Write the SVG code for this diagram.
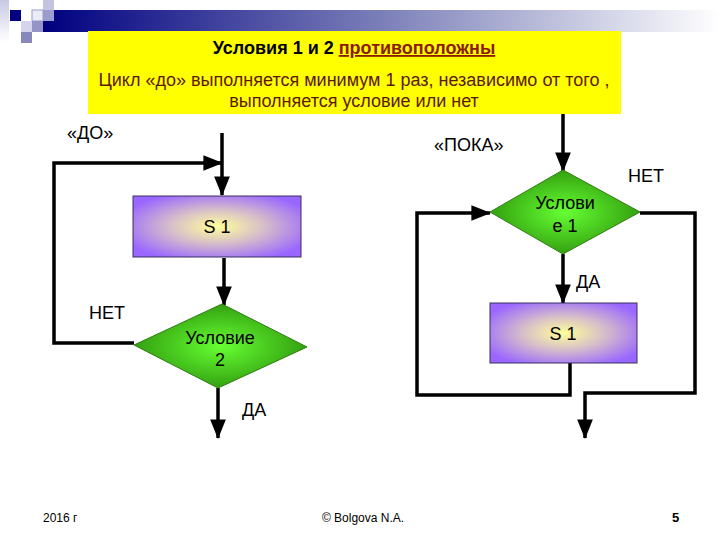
<svg xmlns="http://www.w3.org/2000/svg" width="720" height="540" viewBox="0 0 720 540">
<style>
.t{font-family:"Liberation Sans",Arial,sans-serif;font-size:18px;fill:#000}
.c{text-anchor:middle}
.ln{fill:none;stroke:#000;stroke-width:3.5}
.box{stroke:#3a2f5e;stroke-width:1}
.dia{stroke:#2e7d10;stroke-width:1}
.f{font-family:"Liberation Sans",Arial,sans-serif;font-size:12px;fill:#000}
</style>
<defs>
<linearGradient id="bar" x1="0" y1="0" x2="1" y2="0">
<stop offset="0" stop-color="#000080"/>
<stop offset="0.5" stop-color="#7b7fb8"/>
<stop offset="1" stop-color="#ffffff"/>
</linearGradient>
<linearGradient id="strip" x1="0" y1="0" x2="0" y2="1">
<stop offset="0" stop-color="#c8c8e4"/>
<stop offset="1" stop-color="#ffffff"/>
</linearGradient>
<radialGradient id="sg" cx="0.5" cy="0.5" r="0.6">
<stop offset="0" stop-color="#ffff99"/>
<stop offset="0.45" stop-color="#d8c0c8"/>
<stop offset="1" stop-color="#9966ff"/>
</radialGradient>
<radialGradient id="dg" cx="0.5" cy="0.5" r="0.5">
<stop offset="0" stop-color="#66ff33"/>
<stop offset="1" stop-color="#33a010"/>
</radialGradient>
<marker id="ah" viewBox="0 0 10 8" refX="9.5" refY="4" markerWidth="5.6" markerHeight="4.5" orient="auto" markerUnits="strokeWidth">
<path d="M0,0 L10,4 L0,8 z" fill="#000"/>
</marker>
</defs>
<rect width="720" height="540" fill="#fff"/>
<g id="decor">
<rect x="0" y="0" width="9" height="42" fill="url(#strip)"/>
<rect x="43" y="10" width="677" height="22" fill="url(#bar)"/>
<rect x="10" y="10" width="11" height="11" fill="#000080"/>
<rect x="43" y="0" width="11" height="10" fill="#c4c4e0"/>
<rect x="32" y="10" width="11" height="11" fill="#ececf6" stroke="#9a9ac8" stroke-width="1"/>
<rect x="43" y="10" width="11" height="11" fill="#9c9cd0"/>
<rect x="21" y="21" width="11" height="11" fill="#d4d4ec"/>
<rect x="32" y="21" width="11" height="11" fill="#9494c8"/>
<rect x="21" y="32" width="11" height="11" fill="#8888bc"/>
</g>
<g id="note">
<rect x="88" y="31" width="533" height="83" fill="#ffff00"/>
<text class="t c" x="354" y="54" style="font-weight:bold"><tspan>Условия 1 и 2 </tspan><tspan fill="#8b1a00" text-decoration="underline">противоположны</tspan></text>
<text class="t c" x="354" y="86" style="fill:#5c1a00">Цикл «до» выполняется минимум 1 раз, независимо от того ,</text>
<text class="t c" x="354" y="107" style="fill:#5c1a00">выполняется условие или нет</text>
</g>
<g id="connectors">
<line class="ln" x1="222" y1="133" x2="222" y2="195" marker-end="url(#ah)"/>
<polyline class="ln" points="134,343 54,343 54,163 222,163" marker-end="url(#ah)"/>
<line class="ln" x1="224" y1="258" x2="224" y2="305" marker-end="url(#ah)"/>
<line class="ln" x1="218" y1="388" x2="218" y2="438" marker-end="url(#ah)"/>
<line class="ln" x1="563" y1="114" x2="563" y2="171" marker-end="url(#ah)"/>
<line class="ln" x1="563" y1="254" x2="563" y2="303" marker-end="url(#ah)"/>
<polyline class="ln" points="570,363 570,395 417,395 417,213 490,213" marker-end="url(#ah)"/>
<polyline class="ln" points="640,213 695,213 695,393 585,393 585,438" marker-end="url(#ah)"/>
</g>
<g id="lbl-do"><text class="t" x="67" y="139">«ДО»</text></g>
<g id="s1-left">
<rect class="box" x="133" y="196" width="168" height="61" fill="url(#sg)"/>
<text class="t c" x="217" y="233">S 1</text>
</g>
<g id="cond2">
<polygon class="dia" points="134,345 222,304 307,347 218,388" fill="url(#dg)"/>
<text class="t c" x="220" y="344">Условие</text>
<text class="t c" x="220" y="366">2</text>
</g>
<g id="lbl-net-left"><text class="t" x="89" y="319">НЕТ</text></g>
<g id="lbl-da-left"><text class="t" x="242" y="416">ДА</text></g>
<g id="lbl-poka"><text class="t" x="434" y="151">«ПОКА»</text></g>
<g id="cond1">
<polygon class="dia" points="490,212 563,170 640,212 563,254" fill="url(#dg)"/>
<text class="t c" x="565" y="209">Услови</text>
<text class="t c" x="565" y="232">е 1</text>
</g>
<g id="lbl-net-right"><text class="t" x="628" y="182">НЕТ</text></g>
<g id="lbl-da-right"><text class="t" x="576" y="288">ДА</text></g>
<g id="s1-right">
<rect class="box" x="490" y="303" width="147" height="60" fill="url(#sg)"/>
<text class="t c" x="563" y="340">S 1</text>
</g>
<g id="footer">
<text class="f" x="43" y="522">2016  г</text>
<text class="f c" x="363" y="522">© Bolgova N.A.</text>
<text class="f" x="672" y="522" style="font-weight:bold;font-size:13px">5</text>
</g>
</svg>
